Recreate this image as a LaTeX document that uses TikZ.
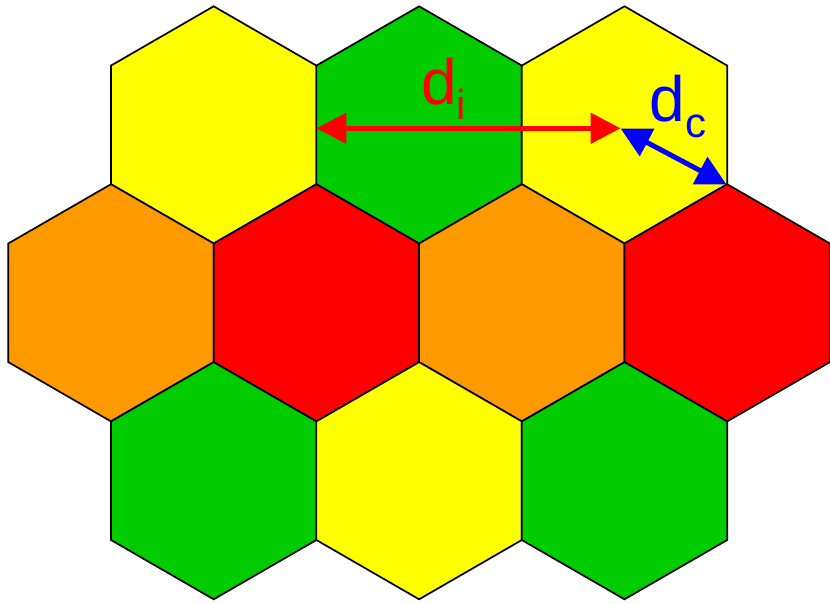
\documentclass[tikz,border=0pt]{standalone}
\usepackage{fontspec}
\setmainfont{Liberation Sans}
\usetikzlibrary{arrows.meta}
\definecolor{hyellow}{RGB}{255,255,0}
\definecolor{hgreen}{RGB}{0,204,0}
\definecolor{horange}{RGB}{255,153,0}
\definecolor{hred}{RGB}{255,0,0}
\definecolor{hblue}{RGB}{0,0,255}
\newcommand\hexR{118.6}
\newcommand\hexcell[3]{%
  \filldraw[hexline, fill=#3] (#1,#2) +(90:\hexR) -- +(150:\hexR) -- +(210:\hexR)
    -- +(270:\hexR) -- +(330:\hexR) -- +(30:\hexR) -- cycle;}
\tikzset{
  hexline/.style={draw=black, line width=1.7pt, line join=miter},
  dimarrow/.style={line width=5pt, {Triangle[length=30pt,width=30pt]}-{Triangle[length=30pt,width=30pt]}},
  mainlbl/.style={anchor=base west, inner sep=0pt, font=\fontsize{64}{64}\selectfont},
  sublbl/.style={anchor=base west, inner sep=0pt, font=\fontsize{42}{42}\selectfont},
}
\begin{document}
\begin{tikzpicture}[x=1pt,y=-1pt]
\useasboundingbox (0,0) rectangle (830,604);
% row 1
\hexcell{213.7}{124.9}{hyellow}
\hexcell{419.1}{124.9}{hgreen}
\hexcell{624.5}{124.9}{hyellow}
% row 2
\hexcell{111.0}{302.8}{horange}
\hexcell{316.4}{302.8}{hred}
\hexcell{521.8}{302.8}{horange}
\hexcell{727.2}{302.8}{hred}
% row 3
\hexcell{213.7}{480.7}{hgreen}
\hexcell{419.1}{480.7}{hyellow}
\hexcell{624.5}{480.7}{hgreen}
% arrow end points
\coordinate (ileft) at (316.4,128.3);
\coordinate (iright) at (620.6,128.3);
\coordinate (cstart) at (620.6,128.5);
\coordinate (cend) at (726.6,184.6);
\draw[dimarrow, draw=hred, fill=hred] (ileft) -- (iright);
\draw[dimarrow, draw=hblue, fill=hblue] (cstart) -- (cend);
% labels
\node[mainlbl, text=hred] (di) at (421.1,105) {d};
\node[sublbl, text=hred] (dis) at (455.9,119.3) {i};
\node[mainlbl, text=hblue] (dc) at (649.5,121.7) {d};
\node[sublbl, text=hblue] (dcs) at (685.1,137.8) {c};
\end{tikzpicture}
\end{document}
